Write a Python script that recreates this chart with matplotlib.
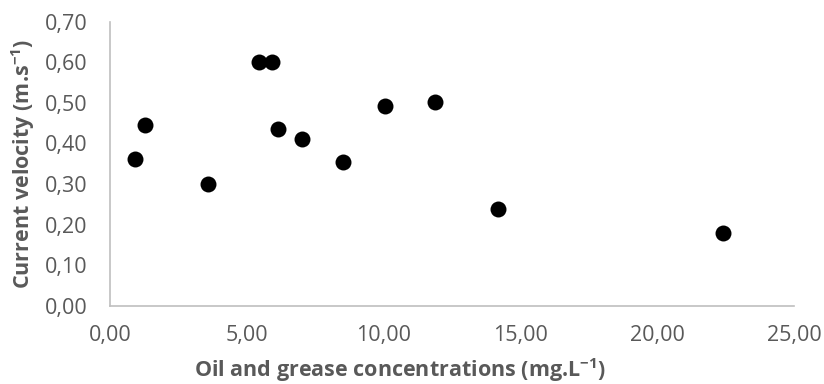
import matplotlib
matplotlib.use('Agg')
import matplotlib.pyplot as plt
from matplotlib.ticker import FuncFormatter, MultipleLocator

# oil and grease (mg/L) vs current velocity (m/s)
oil_grease = [0.91, 1.28, 3.59, 5.45, 5.93, 6.13, 7.03, 8.53, 10.05, 11.88, 14.17, 22.40]
velocity = [0.361, 0.445, 0.300, 0.601, 0.601, 0.435, 0.412, 0.354, 0.491, 0.501, 0.239, 0.179]

plt.rcParams['font.family'] = ['Open Sans', 'DejaVu Sans']
plt.rcParams['mathtext.fontset'] = 'custom'
plt.rcParams['mathtext.rm'] = 'Open Sans'
plt.rcParams['mathtext.bf'] = 'Open Sans:bold'

grey = '#595959'
fig = plt.figure(figsize=(8.24, 3.84), dpi=100)
ax = fig.add_axes([0.1335, 0.203, 0.830, 0.741])

ax.scatter(oil_grease, velocity, s=132, color='black', zorder=3, linewidths=0)

ax.set_xlim(0, 25)
ax.set_ylim(0, 0.70)
ax.xaxis.set_major_locator(MultipleLocator(5))
ax.yaxis.set_major_locator(MultipleLocator(0.1))
fmt = FuncFormatter(lambda v, p: f'{v:.2f}'.replace('.', ','))
ax.xaxis.set_major_formatter(fmt)
ax.yaxis.set_major_formatter(fmt)

for s in ['top', 'right']:
    ax.spines[s].set_visible(False)
for s in ['left', 'bottom']:
    ax.spines[s].set_color('#BFBFBF')
    ax.spines[s].set_linewidth(1.2)
ax.tick_params(length=0, labelsize=15.5, colors=grey)
ax.tick_params(axis='x', pad=14)
ax.tick_params(axis='y', pad=16)

ax.set_xlabel(r'Oil and grease concentrations (mg.L$\mathbf{^{-1}}$)',
              fontsize=15.5, fontweight='bold', color=grey)
ax.xaxis.set_label_coords(0.424, -0.175)
ax.set_ylabel(r'Current velocity (m.s$\mathbf{^{-1}}$)',
              fontsize=15.5, fontweight='bold', color=grey, labelpad=6)

plt.savefig('out.png', dpi=100)
